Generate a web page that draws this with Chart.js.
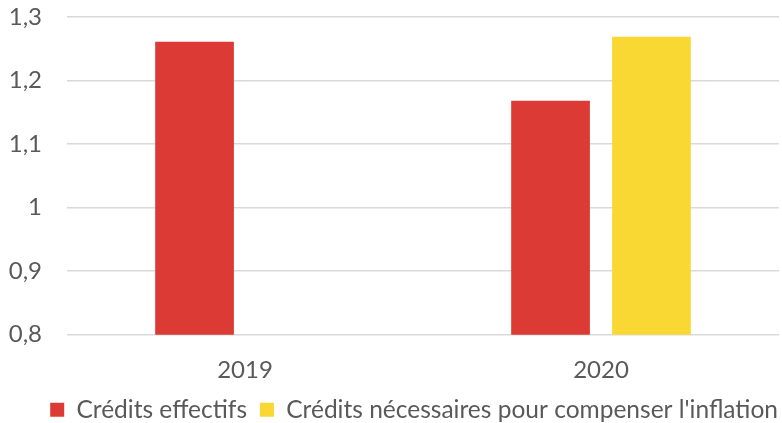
<!DOCTYPE html>
<html>
<head>
<meta charset="utf-8">
<script src="https://cdn.jsdelivr.net/npm/chart.js@4"></script>
<style>
  html, body { margin: 0; padding: 0; background: #fff; }
  #wrap { width: 782px; height: 423px; }
</style>
</head>
<body>
<div id="wrap"><canvas id="myChart" width="782" height="423"></canvas></div>
<script>
const categories = ["2019", "2020"];
const creditsEffectifs = [1.261, 1.168];
const creditsNecessaires = [null, 1.269];
const yTicks = [0.8, 0.9, 1, 1.1, 1.2, 1.3];

Chart.defaults.font.family = "Lato, 'Open Sans', sans-serif";
Chart.defaults.color = "#595959";

// nudge the legend to the right edge, like the original
const legendShift = {
  id: "legendShift",
  afterLayout(chart) {
    if (chart.legend) {
      chart.legend.left += 12;
      chart.legend.right += 12;
    }
  },
};

const ctx = document.getElementById("myChart").getContext("2d");
new Chart(ctx, {
  type: "bar",
  data: {
    labels: categories,
    datasets: [
      {
        label: "Crédits effectifs",
        data: creditsEffectifs,
        backgroundColor: "#DB3B34",
        categoryPercentage: 0.567,
        barPercentage: 0.78,
      },
      {
        label: "Crédits nécessaires pour compenser l'inflation",
        data: creditsNecessaires,
        backgroundColor: "#F9D834",
        categoryPercentage: 0.567,
        barPercentage: 0.78,
      },
    ],
  },
  plugins: [legendShift],
  options: {
    responsive: false,
    animation: false,
    layout: { padding: { top: 17, right: 3, left: 0, bottom: -9 } },
    plugins: {
      tooltip: { enabled: false },
      legend: {
        position: "bottom",
        align: "end",
        labels: {
          boxWidth: 14,
          boxHeight: 14,
          padding: 13,
          font: { size: 24.5 },
          color: "#595959",
        },
      },
    },
    scales: {
      x: {
        grid: { display: false },
        border: { display: false },
        ticks: { font: { size: 24 }, padding: 13 },
        afterFit: (scale) => {
          scale.height -= 13;
        },
      },
      y: {
        min: 0.8,
        max: 1.3,
        afterBuildTicks: (scale) => {
          scale.ticks = yTicks.map((v) => ({ value: v }));
        },
        afterFit: (scale) => {
          scale.width = 67;
          scale.paddingTop = 0;
          scale.paddingBottom = 0;
        },
        grid: { color: "#d9d9d9", lineWidth: 1.5, drawTicks: false },
        border: { display: false },
        ticks: {
          font: { size: 24 },
          padding: 25,
          callback: (v) => String(Math.round(v * 10) / 10).replace(".", ","),
        },
      },
    },
  },
});
</script>
</body>
</html>
